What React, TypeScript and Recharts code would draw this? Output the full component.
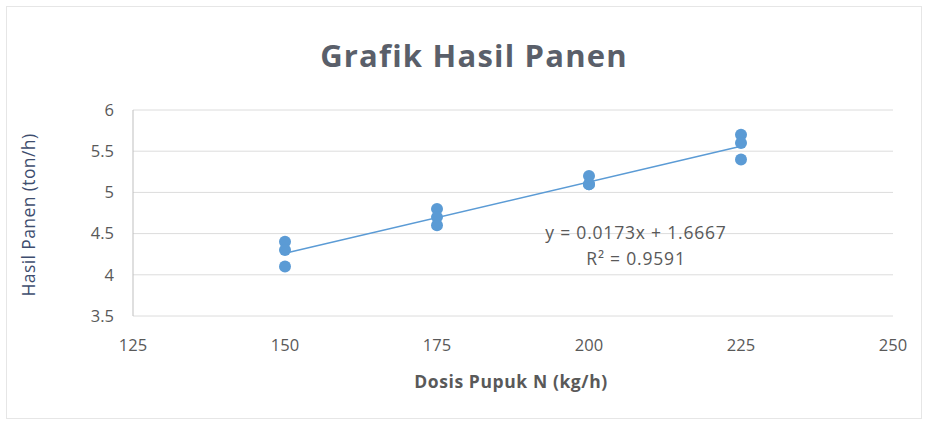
import { ComposedChart, Scatter, Line, XAxis, YAxis, CartesianGrid } from 'recharts';

// dosis pupuk N (kg/h) and hasil panen (ton/h), three plots each
const doses = [150, 150, 150, 175, 175, 175, 200, 200, 200, 225, 225, 225];
const yields = [4.4, 4.3, 4.1, 4.8, 4.7, 4.6, 5.2, 5.1, 5.1, 5.7, 5.6, 5.4];

// linear trendline ends
const trendX = [150, 225];
const trendY = [4.262, 5.559];

const xTicks = [125, 150, 175, 200, 225, 250];
const yTicks = [3.5, 4, 4.5, 5, 5.5, 6];

const points = doses.map((d, i) => ({ x: d, y: yields[i] }));
const trend = trendX.map((d, i) => ({ x: d, y: trendY[i] }));

const TEXT = '#595959';
const BLUE = '#5B9BD5';
const FONT = '"Open Sans", "Liberation Sans", sans-serif';

export default function App() {
  return (
    <div
      style={{
        position: 'fixed',
        left: 0,
        top: 0,
        width: 928,
        height: 425,
        background: '#fff',
        fontFamily: FONT,
      }}
    >
      <div
        style={{
          position: 'absolute',
          left: 6,
          top: 6,
          width: 914,
          height: 411,
          border: '1px solid #e6e6e6',
        }}
      />
      <div
        style={{
          position: 'absolute',
          top: 34,
          left: 0,
          width: 948,
          textAlign: 'center',
          fontSize: 31,
          letterSpacing: 1.2,
          fontWeight: 700,
          color: '#5a5f6a',
          whiteSpace: 'nowrap',
        }}
      >
        Grafik Hasil Panen
      </div>
      <ComposedChart
        width={928}
        height={425}
        margin={{ top: 110, right: 35, bottom: 79, left: 83 }}
        style={{ position: 'absolute', left: 0, top: 0 }}
      >
        <CartesianGrid vertical={false} stroke="#dcdcdc" />
        <XAxis
          type="number"
          dataKey="x"
          domain={[125, 250]}
          ticks={xTicks}
          height={30}
          axisLine={false}
          tickLine={false}
          tickMargin={17}
          tick={{ fill: TEXT, fontSize: 16.5, fontFamily: FONT }}
        />
        <YAxis
          type="number"
          dataKey="y"
          domain={[3.5, 6]}
          ticks={yTicks}
          width={50}
          axisLine={{ stroke: '#bfbfbf' }}
          tickLine={false}
          tickMargin={13}
          tick={{ fill: TEXT, fontSize: 16.5, fontFamily: FONT }}
        />
        <Line
          data={trend}
          dataKey="y"
          stroke={BLUE}
          strokeWidth={1.5}
          dot={false}
          isAnimationActive={false}
        />
        <Scatter
          data={points}
          dataKey="y"
          fill={BLUE}
          shape={(p: any) => <circle cx={p.cx} cy={p.cy} r={6} fill={BLUE} />}
          isAnimationActive={false}
        />
      </ComposedChart>
      <div
        style={{
          position: 'absolute',
          left: 486,
          top: 219,
          width: 300,
          textAlign: 'center',
          fontSize: 17.5,
          letterSpacing: 0.8,
          color: TEXT,
          lineHeight: '26px',
          whiteSpace: 'nowrap',
        }}
      >
        y = 0.0173x + 1.6667
        <br />
        R² = 0.9591
      </div>
      <div
        style={{
          position: 'absolute',
          top: 369,
          left: 361,
          width: 300,
          textAlign: 'center',
          fontSize: 17.5,
          letterSpacing: 0.6,
          fontWeight: 700,
          color: TEXT,
          whiteSpace: 'nowrap',
        }}
      >
        Dosis Pupuk N (kg/h)
      </div>
      <div
        style={{
          position: 'absolute',
          left: 28 - 100,
          top: 215 - 11,
          width: 200,
          height: 22,
          lineHeight: '22px',
          textAlign: 'center',
          fontSize: 17.5,
          letterSpacing: 0.4,
          color: '#3e4d6e',
          transform: 'rotate(-90deg)',
          whiteSpace: 'nowrap',
        }}
      >
        Hasil Panen (ton/h)
      </div>
    </div>
  );
}
